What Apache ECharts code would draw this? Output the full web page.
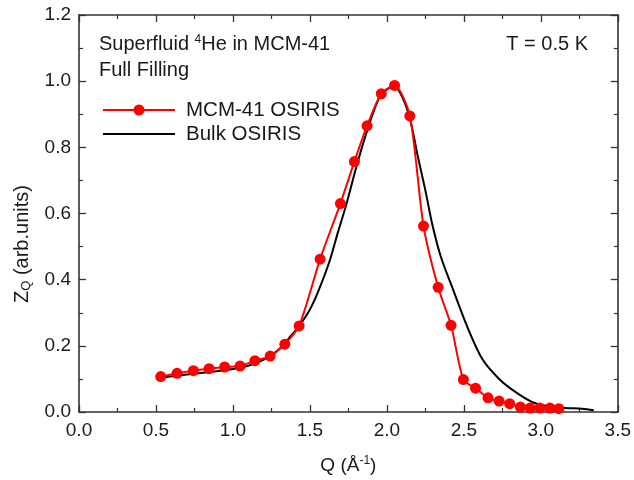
<!DOCTYPE html>
<html>
<head>
<meta charset="utf-8">
<script src="https://cdn.jsdelivr.net/npm/echarts@6/dist/echarts.min.js"></script>
<style>html,body{margin:0;padding:0;background:#fff}#c{width:634px;height:480px}</style>
</head>
<body>
<div id="c"></div>
<script>
// MCM-41 OSIRIS (red, with markers)
var mcmQ = [0.531,0.637,0.743,0.845,0.946,1.046,1.143,1.242,1.337,1.430,1.566,1.698,1.789,1.871,1.964,2.050,2.149,2.238,2.333,2.417,2.497,2.576,2.657,2.729,2.798,2.867,2.930,2.994,3.059,3.117];
var mcmZ = [0.107,0.117,0.125,0.131,0.136,0.139,0.155,0.169,0.205,0.260,0.462,0.630,0.757,0.865,0.962,0.987,0.895,0.562,0.377,0.262,0.098,0.072,0.043,0.033,0.025,0.015,0.012,0.012,0.012,0.010];
// Bulk OSIRIS (black line)
var bulkQ = [0.55,0.70,0.85,1.00,1.10,1.20,1.30,1.38,1.43,1.50,1.55,1.627,1.68,1.735,1.81,1.882,1.95,2.00,2.04,2.08,2.145,2.20,2.25,2.296,2.35,2.43,2.52,2.62,2.729,2.837,2.945,3.053,3.16,3.268,3.344];
var bulkZ = [0.105,0.113,0.121,0.130,0.140,0.158,0.190,0.232,0.260,0.310,0.360,0.455,0.540,0.625,0.755,0.865,0.950,0.975,0.983,0.970,0.895,0.775,0.670,0.565,0.470,0.370,0.260,0.160,0.100,0.060,0.030,0.017,0.012,0.010,0.005];
var xTicks = [0.0,0.5,1.0,1.5,2.0,2.5,3.0,3.5];
var yTicks = [0.0,0.2,0.4,0.6,0.8,1.0,1.2];
var legendNames = ['MCM-41 OSIRIS','Bulk OSIRIS'];

var FONT = 'Liberation Sans';
function zip(a,b){return a.map(function(v,i){return [v,b[i]];});}
var axisCol = '#333';
var chart = echarts.init(document.getElementById('c'));
var baseX = {
  type:'value', min:xTicks[0], max:xTicks[xTicks.length-1], interval:0.5,
  axisLine:{show:true,onZero:false,lineStyle:{color:axisCol,width:1.6}},
  axisTick:{show:true,inside:true,length:7,lineStyle:{color:axisCol,width:1.3}},
  minorTick:{show:true,splitNumber:2,length:4,lineStyle:{color:axisCol,width:1.2}},
  splitLine:{show:false}
};
var baseY = {
  type:'value', min:yTicks[0], max:yTicks[yTicks.length-1], interval:0.2,
  axisLine:{show:true,onZero:false,lineStyle:{color:axisCol,width:1.6}},
  axisTick:{show:true,inside:true,length:7,lineStyle:{color:axisCol,width:1.3}},
  minorTick:{show:true,splitNumber:2,length:4,lineStyle:{color:axisCol,width:1.2}},
  splitLine:{show:false}
};
var txtCol = '#1a1a1a';
var F20 = '20px "Liberation Sans"';
chart.setOption({
  animation:false,
  backgroundColor:'#fff',
  textStyle:{fontFamily:FONT},
  grid:{left:79,right:16,top:15,bottom:65},
  xAxis:[
    Object.assign({}, baseX, {position:'bottom',
      name:'{a|Q (Å}{s|-1}{a|)}', nameLocation:'middle', nameGap:43,
      nameTextStyle:{rich:{a:{fontFamily:FONT,fontSize:19,color:txtCol},s:{fontFamily:FONT,fontSize:12,color:txtCol,verticalAlign:'top',padding:[0,0,9,0]}}},
      axisLabel:{show:true,fontFamily:FONT,fontSize:19,color:txtCol,margin:9,formatter:function(v){return v.toFixed(1);}}}),
    Object.assign({}, baseX, {position:'top', axisLabel:{show:false}})
  ],
  yAxis:[
    Object.assign({}, baseY, {position:'left',
      axisLabel:{show:true,fontFamily:FONT,fontSize:19,color:txtCol,margin:8,formatter:function(v){return v.toFixed(1);}}}),
    Object.assign({}, baseY, {position:'right', axisLabel:{show:false}})
  ],
  graphic:[
    {type:'text', x:22, y:244, rotation:Math.PI/2, style:{rich:{a:{fontFamily:FONT,fontSize:20,fill:txtCol},s:{fontFamily:FONT,fontSize:13,fill:txtCol,verticalAlign:'bottom',padding:[9,0,0,0]}},
      text:'{a|Z}{s|Q}{a| (arb.units)}', align:'center', verticalAlign:'middle'}},
    {type:'text', x:99, y:44, style:{rich:{a:{fontFamily:FONT,fontSize:20,fill:txtCol},s:{fontFamily:FONT,fontSize:12,fill:txtCol,verticalAlign:'top',padding:[0,0,8,0]}},
      text:'{a|Superfluid }{s|4}{a|He in MCM-41}', verticalAlign:'middle'}},
    {type:'text', x:99, y:70, style:{text:'Full Filling', font:F20, fill:txtCol, verticalAlign:'middle'}},
    {type:'text', x:588, y:44, style:{text:'T = 0.5 K', font:F20, fill:txtCol, align:'right', verticalAlign:'middle'}},
    {type:'line', shape:{x1:103,y1:110,x2:175,y2:110}, style:{stroke:'#ff0000',lineWidth:2}},
    {type:'circle', shape:{cx:139,cy:110,r:5.5}, style:{fill:'#ff0000'}},
    {type:'text', x:186, y:110, style:{text:legendNames[0], font:'20.5px "Liberation Sans"', fill:txtCol, verticalAlign:'middle'}},
    {type:'line', shape:{x1:103,y1:134,x2:175,y2:134}, style:{stroke:'#000',lineWidth:2}},
    {type:'text', x:186, y:134, style:{text:legendNames[1], font:'20.5px "Liberation Sans"', fill:txtCol, verticalAlign:'middle'}}
  ],
  series:[
    {name:legendNames[1], type:'line', data:zip(bulkQ,bulkZ), smooth:0.3, symbol:'none',
      lineStyle:{color:'#000',width:2}, z:2},
    {name:legendNames[0], type:'line', data:zip(mcmQ,mcmZ), smooth:0.25, symbol:'circle', symbolSize:11,
      lineStyle:{color:'#ff0000',width:2}, itemStyle:{color:'#ff0000'}, z:3}
  ]
});
</script>
</body>
</html>
